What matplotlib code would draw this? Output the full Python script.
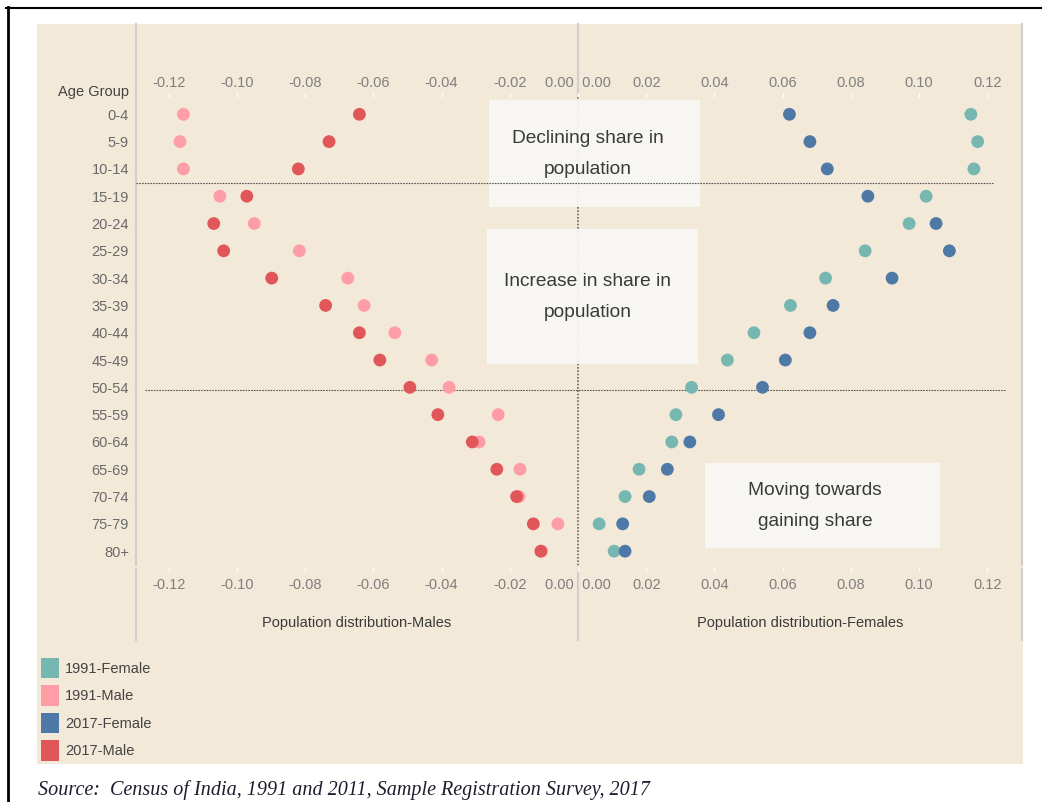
import matplotlib

matplotlib.use("Agg")

import matplotlib.pyplot as plt
from matplotlib.patches import Rectangle, Patch
from matplotlib.lines import Line2D

plt.rcParams["font.family"] = ["Liberation Sans", "DejaVu Sans"]

# =====================
# DATA
# =====================

age_groups = ["0-4", "5-9", "10-14", "15-19", "20-24", "25-29", "30-34",
              "35-39", "40-44", "45-49", "50-54", "55-59", "60-64",
              "65-69", "70-74", "75-79", "80+"]

male_1991 = [-0.1157, -0.1167, -0.1157, -0.1050, -0.0949, -0.0817, -0.0675,
             -0.0627, -0.0537, -0.0429, -0.0378, -0.0234, -0.0290, -0.0170,
             -0.0173, -0.0059, -0.0107]
male_2017 = [-0.0641, -0.0730, -0.0820, -0.0971, -0.1068, -0.1039, -0.0898,
             -0.0740, -0.0641, -0.0581, -0.0493, -0.0411, -0.0310, -0.0238,
             -0.0180, -0.0131, -0.0109]
female_1991 = [0.1152, 0.1172, 0.1161, 0.1021, 0.0971, 0.0842, 0.0726,
               0.0623, 0.0516, 0.0438, 0.0333, 0.0287, 0.0275, 0.0179,
               0.0138, 0.0062, 0.0106]
female_2017 = [0.0620, 0.0680, 0.0731, 0.0850, 0.1050, 0.1089, 0.0921,
               0.0748, 0.0680, 0.0608, 0.0541, 0.0412, 0.0328, 0.0262,
               0.0209, 0.0131, 0.0138]

male_ticks = [-0.12, -0.10, -0.08, -0.06, -0.04, -0.02, 0.0]
female_ticks = [0.0, 0.02, 0.04, 0.06, 0.08, 0.10, 0.12]

series_names = ["1991-Female", "1991-Male", "2017-Female", "2017-Male"]
series_colors = ["#76b7b2", "#ff9da7", "#4e79a7", "#e15759"]

source_text = "Source:  Census of India, 1991 and 2011, Sample Registration Survey, 2017"

# =====================
# FIGURE
# =====================

W, H = 1042, 802
fig = plt.figure(figsize=(W / 100, H / 100), dpi=100, facecolor="white")


def fx(px):
    return px / W


def fy(py):
    return 1 - py / H


# beige panel
fig.patches.append(Rectangle((fx(37), fy(764)), fx(986), 740 / H,
                             transform=fig.transFigure, facecolor="#f3e9d8",
                             edgecolor="none", zorder=-5))

# outer frame
fig.add_artist(Line2D([fx(6), 1], [fy(7.5), fy(7.5)], color="black", lw=1.5))
fig.add_artist(Line2D([fx(7.5), fx(7.5)], [0, fy(6.5)], color="black", lw=2))

# pane lines
grey = "#cfcfcf"
for px in [136, 1022]:
    fig.add_artist(Line2D([fx(px), fx(px)], [fy(24), fy(565)], color=grey, lw=1.5, zorder=-1))
    fig.add_artist(Line2D([fx(px), fx(px)], [fy(569), fy(640)], color=grey, lw=1.5, zorder=-1))
fig.add_artist(Line2D([fx(578), fx(578)], [fy(24), fy(97)], color=grey, lw=1.5, zorder=-1))
fig.add_artist(Line2D([fx(578), fx(578)], [fy(569), fy(640)], color=grey, lw=1.5, zorder=-1))

top, bottom = 97, 567
ax_l = fig.add_axes([fx(136), fy(bottom), fx(578 - 136), (bottom - top) / H])
ax_r = fig.add_axes([fx(578), fy(bottom), fx(1022 - 578), (bottom - top) / H])

ylim = (16.58, -0.634)
rows = list(range(len(age_groups)))

ax_l.scatter(male_1991, rows, s=85, color=series_colors[1], edgecolors="none", zorder=5)
ax_l.scatter(male_2017, rows, s=85, color=series_colors[3], edgecolors="none", zorder=6)
ax_r.scatter(female_1991, rows, s=85, color=series_colors[0], edgecolors="none", zorder=5)
ax_r.scatter(female_2017, rows, s=85, color=series_colors[2], edgecolors="none", zorder=6)

ax_l.set_xlim(-0.1296, 0)
ax_r.set_xlim(0, 0.1302)


def tick_text(t, side):
    s = f"{t:.2f}"
    if t == 0:
        s = s + " " if side == "l" else " " + s
    return s


for ax, ticks, side in [(ax_l, male_ticks, "l"), (ax_r, female_ticks, "r")]:
    ax.set_facecolor("none")
    ax.set_ylim(*ylim)
    for s in ax.spines.values():
        s.set_visible(False)
    labels = [tick_text(t, side) for t in ticks]
    ax.set_xticks(ticks)
    ax.set_xticklabels(labels)
    ax.tick_params(axis="x", top=False, bottom=True, labelbottom=True,
                   color="white", length=3, width=1, pad=5.2,
                   labelsize=10.5, labelcolor="#7f7f7f")
    sec = ax.secondary_xaxis("top")
    for s in sec.spines.values():
        s.set_visible(False)
    sec.set_xticks(ticks)
    sec.set_xticklabels(labels)
    sec.tick_params(axis="x", color="white", length=3, width=1, pad=2.2,
                    labelsize=10.5, labelcolor="#7f7f7f")
    ha = "right" if side == "l" else "left"
    idx = -1 if side == "l" else 0
    ax.xaxis.get_major_ticks()[idx].label1.set_horizontalalignment(ha)
    sec.xaxis.get_major_ticks()[idx].label2.set_horizontalalignment(ha)

ax_l.set_yticks(rows)
ax_l.set_yticklabels(age_groups)
ax_l.tick_params(axis="y", length=0, pad=5, labelsize=10.5, labelcolor="#6a6a6a")
ax_r.set_yticks([])

ax_l.set_xlabel("Population distribution-Males", fontsize=10.5, color="#3a3a3a", labelpad=17)
ax_r.set_xlabel("Population distribution-Females", fontsize=10.5, color="#3a3a3a", labelpad=17)

fig.text(fx(129), fy(92), "Age Group", ha="right", va="center",
         fontsize=10.5, color="#444444")

# zero line and section dividers
ax_l.plot([0, 0], [ylim[1], 16.55], color="#666666", lw=1.2,
          linestyle=(0, (1, 1)), clip_on=False, zorder=2)
ax_l.plot([-0.1297, 0.1217], [2.5, 2.5], color="#555555", lw=0.8,
          linestyle=(0, (1.5, 1)), clip_on=False, zorder=4)
ax_l.plot([-0.127, 0.1255], [10.1, 10.1], color="#555555", lw=0.8,
          linestyle=(0, (1.5, 1)), clip_on=False, zorder=4)

# annotation boxes
box_kw = dict(facecolor="#f8f8f6", edgecolor="none", alpha=0.92, clip_on=False, zorder=3)
ax_l.add_patch(Rectangle((-0.0261, -0.52), 0.0619, 3.92, **box_kw))
ax_l.add_patch(Rectangle((-0.0267, 4.20), 0.0619, 4.94, **box_kw))
ax_r.add_patch(Rectangle((0.0372, 12.77), 0.069, 3.11, **box_kw))

txt_kw = dict(ha="center", va="center", fontsize=13.8, color="#3a3a3a",
              linespacing=2.05, zorder=6, clip_on=False)
ax_l.text(0.0029, 1.45, "Declining share in\npopulation", **txt_kw)
ax_l.text(0.0029, 6.70, "Increase in share in\npopulation", **txt_kw)
ax_r.text(0.0695, 14.35, "Moving towards\ngaining share", **txt_kw)

# legend
handles = [Patch(facecolor=c, edgecolor="none", label=n)
           for n, c in zip(series_names, series_colors)]
fig.legend(handles=handles, loc="upper left", bbox_to_anchor=(fx(41), fy(658)),
           frameon=False, fontsize=10.5, labelcolor="#444444",
           handlelength=1.25, handleheight=1.75, handletextpad=0.4,
           labelspacing=0.5, borderpad=0, borderaxespad=0)

fig.text(fx(38), fy(790), source_text, ha="left", va="center",
         family=["Liberation Serif", "DejaVu Serif"], style="italic",
         fontsize=14.5, color="#1e1e2e")

fig.savefig("out.png", dpi=100)
plt.close(fig)
